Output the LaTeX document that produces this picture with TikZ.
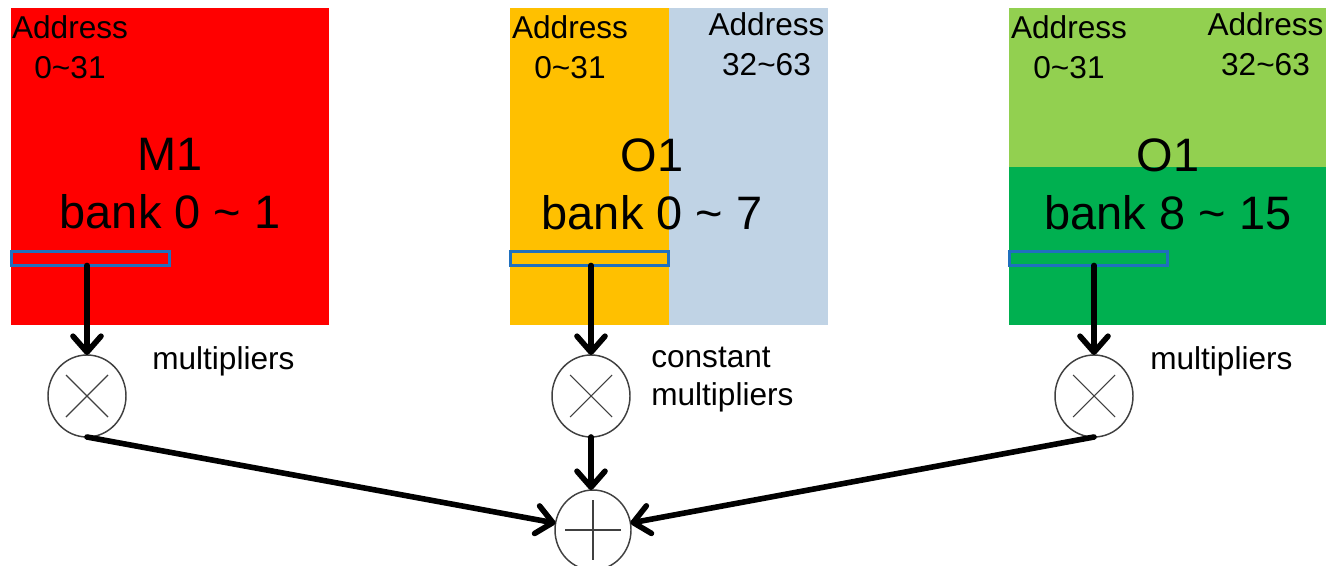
\documentclass[tikz,border=0pt]{standalone}
\usepackage{fontspec}
\setmainfont{Liberation Sans}
\usetikzlibrary{arrows.meta,shapes.geometric}
\definecolor{bankred}{HTML}{FF0000}
\definecolor{bankorange}{HTML}{FFC000}
\definecolor{bankgrey}{HTML}{C0D3E5}
\definecolor{banklight}{HTML}{92D050}
\definecolor{bankdark}{HTML}{00B050}
\definecolor{rowblue}{HTML}{1F70BE}
\definecolor{opline}{HTML}{404040}
\begin{document}
\begin{tikzpicture}[x=0.75pt,y=-0.75pt,
  addr/.style={inner sep=0pt,align=center,font=\fontsize{23.7}{30}\selectfont},
  bigtxt/.style={inner sep=0pt,align=center,font=\fontsize{35.2}{43.5}\selectfont},
  note/.style={inner sep=0pt,align=left,font=\fontsize{23.7}{28.5}\selectfont},
  rowbar/.style={draw=rowblue,line width=2.25pt,minimum width=118.5pt,minimum height=10.5pt,inner sep=0pt,outer sep=0pt},
  op/.style={ellipse,draw=opline,line width=1.1pt,fill=white,inner sep=0pt,outer sep=0pt},
  sym/.style={opline,line width=0.8pt},
  flow/.style={line width=4.2pt,line cap=round,-{Straight Barb[length=12pt,width=21pt,line width=4.2pt,round]}}]
\useasboundingbox (0,0) rectangle (1326,566);

% memory banks
\fill[bankred] (11,8) rectangle (329,325);
\fill[bankorange] (510,8) rectangle (669,325);
\fill[bankgrey] (669,8) rectangle (828,325);
\fill[banklight] (1009,8) rectangle (1326,167);
\fill[bankdark] (1009,167) rectangle (1326,325);

% address ranges
\node[addr,anchor=north] (a1) at (70,15) {Address\\0\textasciitilde31};
\node[addr,anchor=north] (a2) at (570,15) {Address\\0\textasciitilde31};
\node[addr,anchor=north] (a3) at (766.5,12) {Address\\32\textasciitilde63};
\node[addr,anchor=north] (a4) at (1069,15) {Address\\0\textasciitilde31};
\node[addr,anchor=north] (a5) at (1265.5,12) {Address\\32\textasciitilde63};

% bank names
\node[bigtxt,anchor=north] (t1) at (170,138) {M1\\bank 0 \textasciitilde{} 1};
\node[bigtxt,anchor=north] (t2) at (652,138) {O1\\bank 0 \textasciitilde{} 7};
\node[bigtxt,anchor=north] (t3) at (1168,138) {O1\\bank 8 \textasciitilde{} 15};

% selected rows
\node[rowbar] (bar1) at (90.5,258.5) {};
\node[rowbar] (bar2) at (589.5,258.5) {};
\node[rowbar] (bar3) at (1088.5,258.5) {};

% operators
\node[op,minimum width=58.5pt,minimum height=61.5pt] (mul1) at (87,396) {};
\node[op,minimum width=58.5pt,minimum height=61.5pt] (mul2) at (591,396) {};
\node[op,minimum width=58.5pt,minimum height=61.5pt] (mul3) at (1094,396) {};
\node[op,minimum width=57pt,minimum height=60pt] (add) at (593,530) {};
\foreach \m in {mul1,mul2,mul3}{
  \draw[sym] (\m.center) +(-21,-21) -- +(21,21);
  \draw[sym] (\m.center) +(-21,21) -- +(21,-21);
}
\draw[sym] (add.center) +(-28,0) -- +(28,0);
\draw[sym] (add.center) +(0,-30) -- +(0,30);

% operator labels
\node[note,anchor=north west] (n1) at (152,346) {multipliers};
\node[note,anchor=north west] (n2) at (651,347) {constant\\multipliers};
\node[note,anchor=north west] (n3) at (1150,346) {multipliers};

% data flow
\draw[flow] (mul1.north |- bar1.south) -- (mul1.north);
\draw[flow] (mul2.north |- bar2.south) -- (mul2.north);
\draw[flow] (mul3.north |- bar3.south) -- (mul3.north);
\draw[flow] (mul2.south) -- (mul2.south |- add.north);
\draw[flow] (mul1.south) -- (add);
\draw[flow] (mul3.south) -- (add);
\end{tikzpicture}
\end{document}
